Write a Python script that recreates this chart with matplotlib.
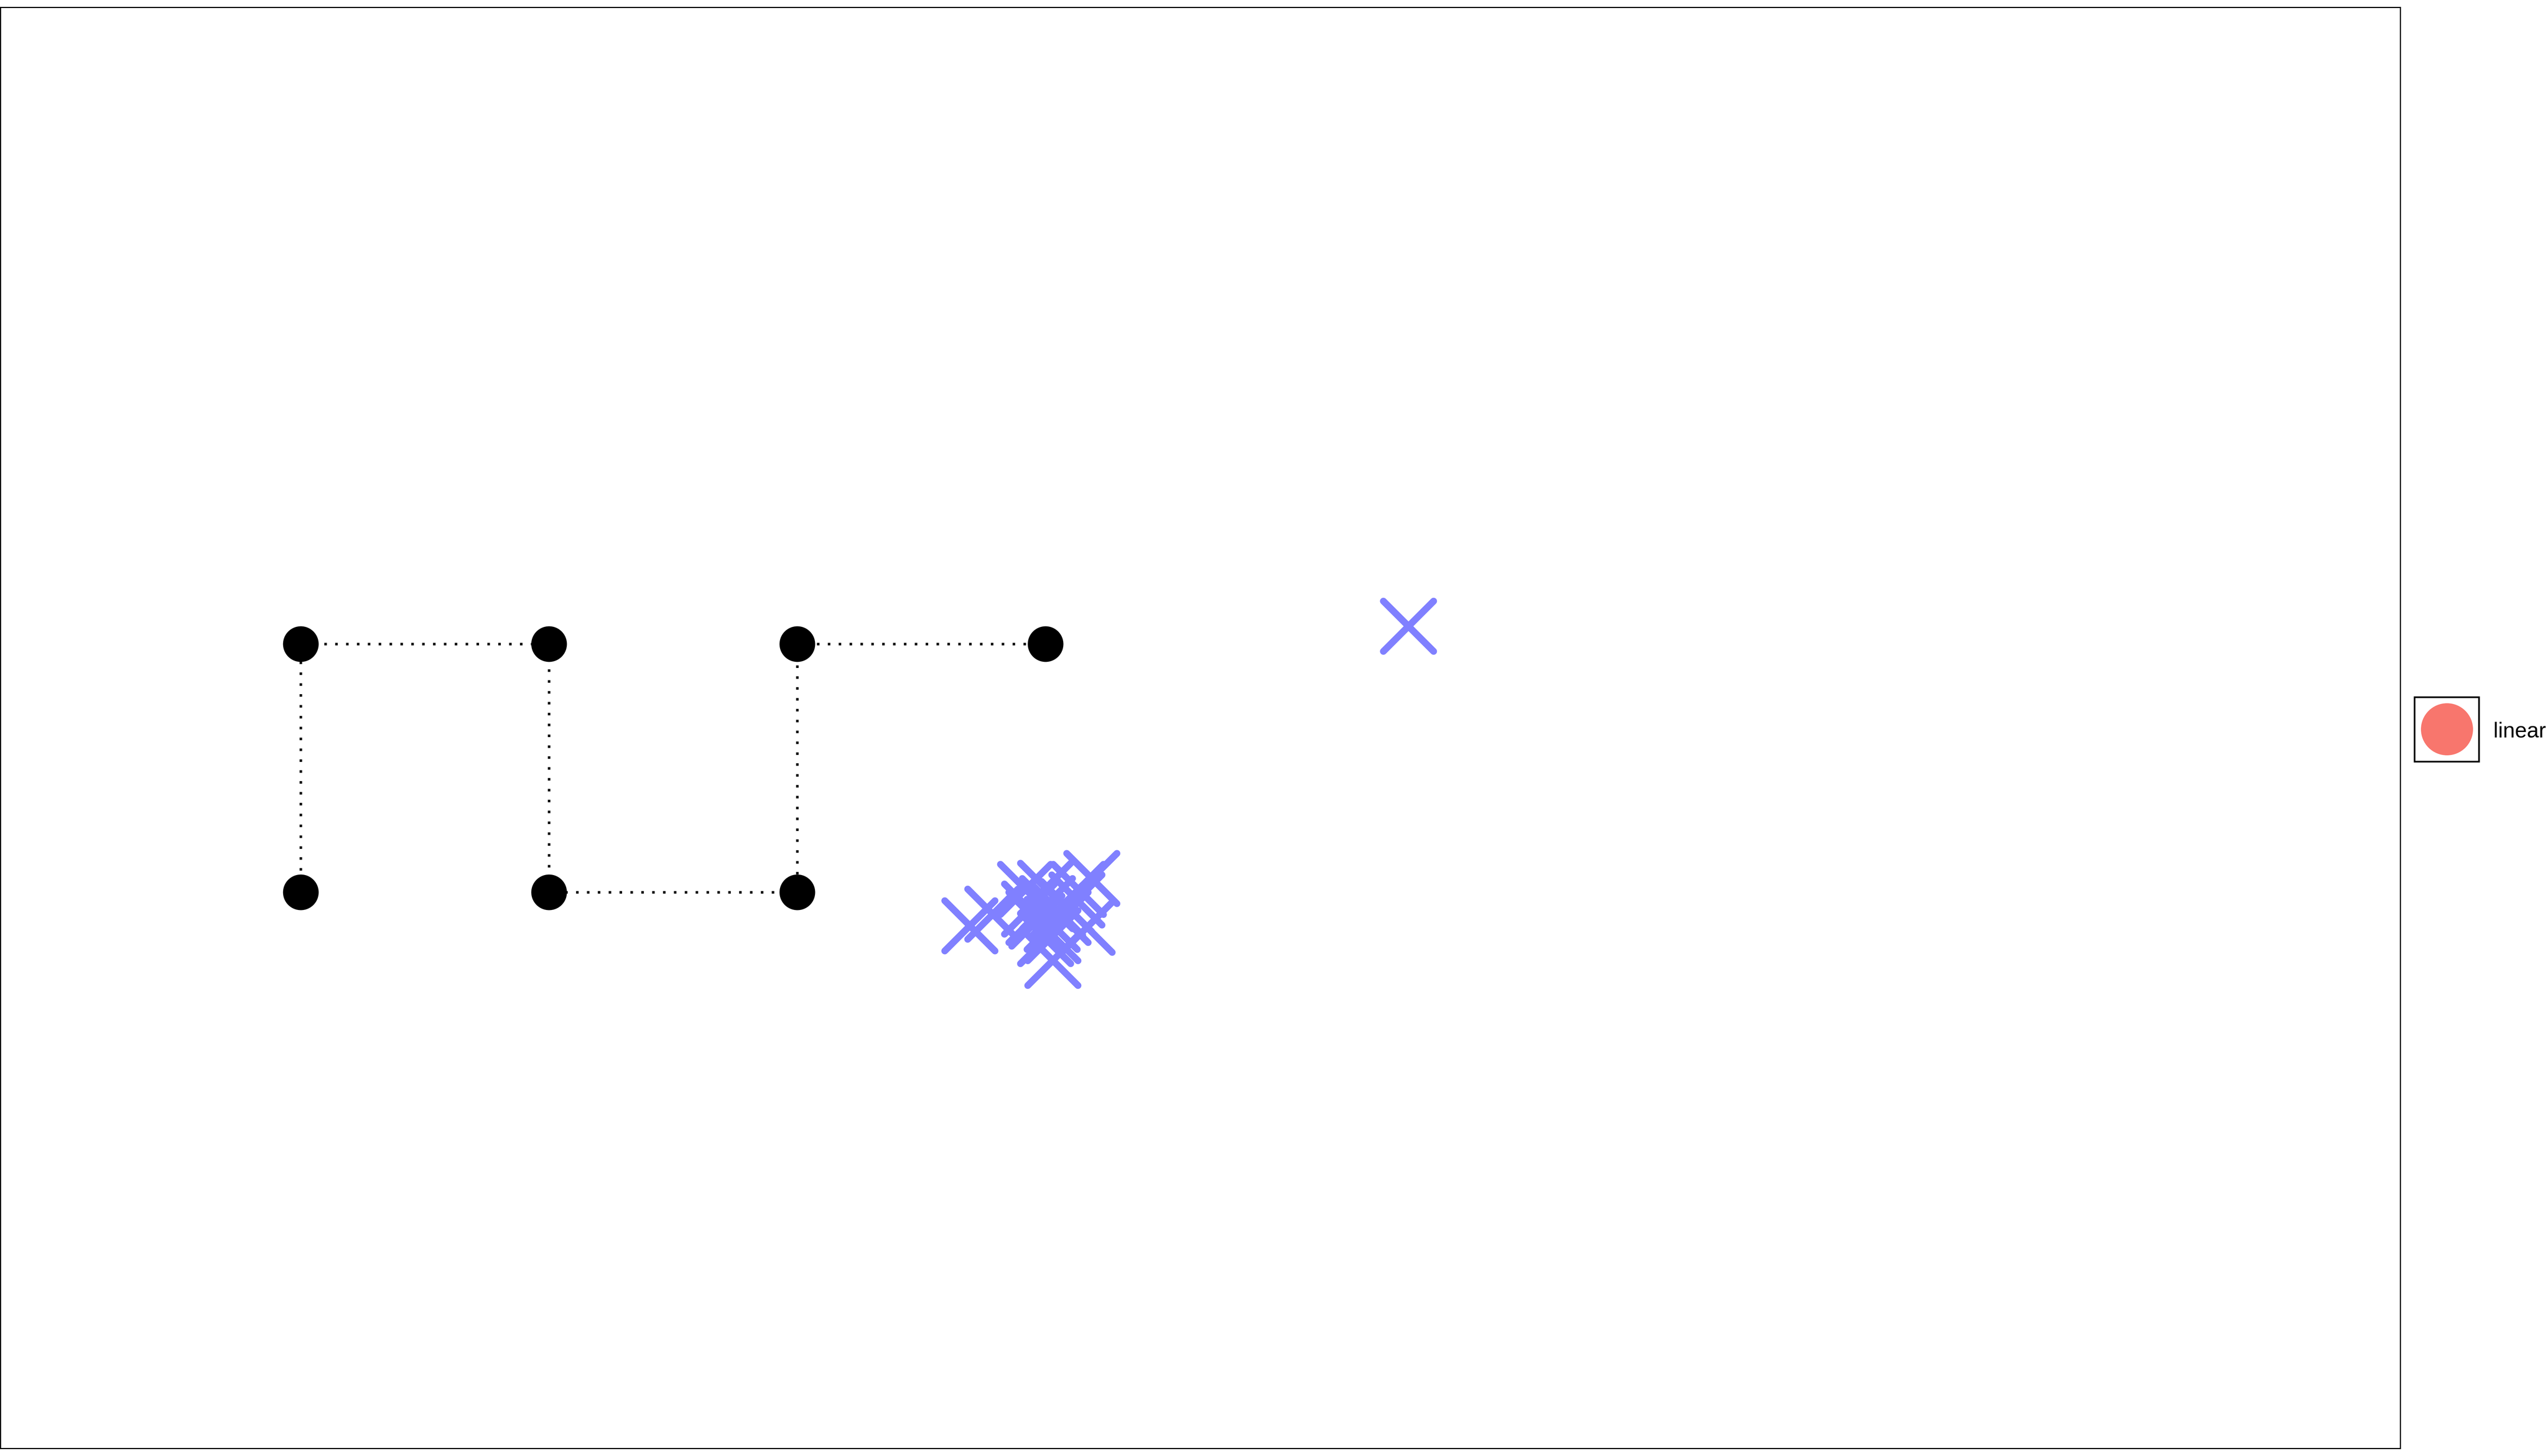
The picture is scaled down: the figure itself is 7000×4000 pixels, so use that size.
import matplotlib
matplotlib.use('Agg')
import matplotlib.pyplot as plt
from matplotlib.lines import Line2D
from matplotlib.patches import Rectangle
from matplotlib.markers import MarkerStyle
from matplotlib.legend_handler import HandlerBase

plt.rcParams['font.family'] = ['Liberation Sans', 'DejaVu Sans']

# black points joined by a dotted path (square wave)
path_x = [0, 0, 1, 1, 2, 2, 3]
path_y = [0, 1, 1, 0, 0, 1, 1]

# blue crosses: a tight cluster plus one outlier
cross_x = [2.694, 2.787, 2.919, 2.999, 3.186, 2.935, 3.007, 3.126, 2.952, 2.999,
           3.167, 3.029, 3.029, 3.026, 3.132, 2.965, 3.048, 3.070, 3.085, 4.462]
cross_y = [-0.135, -0.088, 0.012, 0.016, 0.056, -0.067, -0.045, -0.031, -0.100, -0.186,
           -0.141, -0.274, -0.174, -0.128, 0.012, -0.116, -0.072, -0.101, -0.057, 1.073]

legend_label = 'linear'
legend_color = '#F8766D'


class BoxedKey(HandlerBase):
    # square black frame with a filled circle in the middle
    def create_artists(self, legend, orig_handle, xdescent, ydescent,
                       width, height, fontsize, trans):
        side = width
        cx = -xdescent + width / 2
        cy = 0.37 * fontsize
        box = Rectangle((cx - side / 2, cy - side / 2), side, side, fill=False,
                        edgecolor='black', lw=0.65, transform=trans)
        dot = Line2D([cx], [cy], ls='none', marker='o', ms=20.6, mew=0,
                     color=orig_handle.get_color(), transform=trans)
        return [box, dot]


fig = plt.figure(figsize=(14, 8), dpi=500)
ax = fig.add_axes([1 / 7000, 1 - 3979 / 4000, (6594 - 1) / 7000, (3979 - 20) / 4000])

ax.plot(path_x, path_y, color='black', lw=1.0, dashes=(1, 3.3),
        dash_capstyle='butt', zorder=1)
ax.plot(path_x, path_y, 'o', color='black', ms=14.1, mew=0, zorder=2)

xmark = MarkerStyle('x', capstyle='round')
ax.plot(cross_x, cross_y, ls='none', marker=xmark, ms=20, mew=2.7,
        color='#8080FF', zorder=3)

ax.set_xlim(-1.210, 8.457)
ax.set_ylim(-2.240, 3.565)
ax.set_xticks([])
ax.set_yticks([])
for sp in ax.spines.values():
    sp.set_color('black')
    sp.set_linewidth(0.45)

key = Line2D([], [], color=legend_color)
fig.legend([key], [legend_label], handler_map={Line2D: BoxedKey()},
           loc='center left', bbox_to_anchor=(6633 / 7000, 1 - 2008 / 4000),
           bbox_transform=fig.transFigure, frameon=False, fontsize=8.5,
           handlelength=3.0, handleheight=3.0, handletextpad=0.67,
           borderpad=0, borderaxespad=0)

fig.savefig('out.png', dpi=500)
